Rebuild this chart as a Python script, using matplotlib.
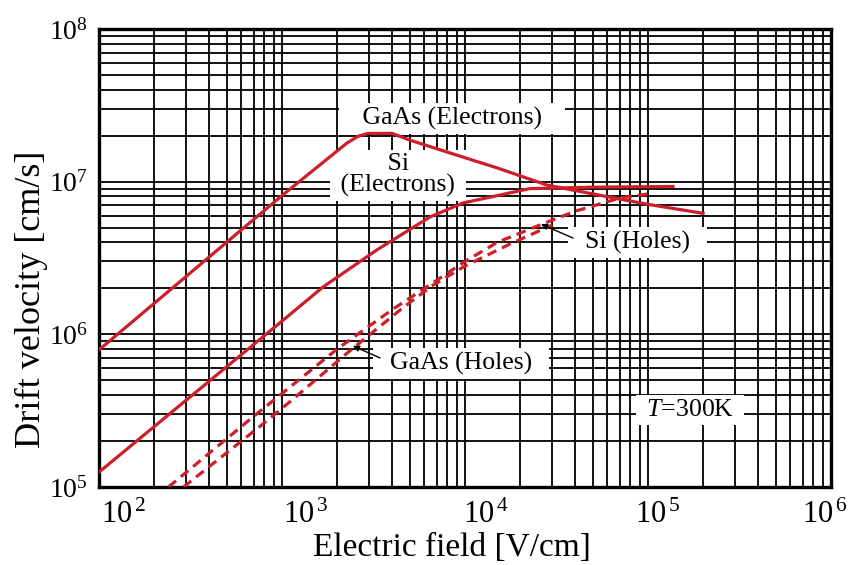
import matplotlib
matplotlib.use("Agg")
import matplotlib.pyplot as plt
import matplotlib.transforms as mtransforms
from matplotlib.ticker import NullFormatter

plt.rcParams['font.family'] = ['Liberation Serif', 'DejaVu Serif']
plt.rcParams['mathtext.fontset'] = 'custom'
plt.rcParams['mathtext.rm'] = 'Liberation Serif'
plt.rcParams['mathtext.it'] = 'Liberation Serif:italic'
plt.rcParams['lines.scale_dashes'] = False

# values: electric field [V/cm], drift velocity [cm/s]
gaas_e_field = [100, 1000, 2265, 2600, 2950, 4000, 5000, 8300, 1.5e4, 2.8e4, 5.3e4, 1e5, 2e5]
gaas_e_vel = [7.9e5, 8.1e6, 1.79e7, 1.98e7, 2.07e7, 2.07e7, 1.87e7, 1.54e7, 1.23e7, 9.5e6, 8.2e6, 7.1e6, 6.2e6]

si_e_field = [100, 1000, 1675, 3300, 6440, 9750, 1.5e4, 2.26e4, 5e4, 1.37e5]
si_e_vel = [1.25e5, 1.22e6, 2.04e6, 3.57e6, 5.87e6, 7.25e6, 8.1e6, 9.0e6, 9.2e6, 9.3e6]

si_h_field = [240, 700, 2000, 4000, 6200, 1e4, 1.5e4, 2.67e4, 4e4, 7e4, 1e5]
si_h_vel = [1.0e5, 2.9e5, 8.0e5, 1.45e6, 2.05e6, 3.0e6, 4.0e6, 5.3e6, 6.4e6, 7.8e6, 8.3e6]

gaas_h_field = [290, 760, 1100, 2350, 4600, 6700, 1e4, 1.76e4, 3e4]
gaas_h_vel = [1.0e5, 2.5e5, 3.6e5, 7.8e5, 1.5e6, 2.1e6, 2.8e6, 3.9e6, 5.2e6]

xticks = [1e2, 1e3, 1e4, 1e5, 1e6]
xlabels = [r'$10^{\,2}$', r'$10^{\,3}$', r'$10^{\,4}$', r'$10^{\,5}$', r'$10^{\,6}$']
yticks = [1e5, 1e6, 1e7, 1e8]
ylabels = [r'$10^{5}$', r'$10^{6}$', r'$10^{7}$', r'$10^{8}$']

red = '#cc1f2a'

fig = plt.figure(figsize=(8.62, 5.65), dpi=100)
ax = fig.add_axes([0.1148, 0.1381, 0.8492, 0.8106])
ax.set_xscale('log')
ax.set_yscale('log')
ax.set_xlim(1e2, 1e6)
ax.set_ylim(1e5, 1e8)

ax.grid(True, which='both', color='black', lw=1.3)
for s in ax.spines.values():
    s.set_linewidth(2.4)
ax.tick_params(which='both', length=0)
ax.xaxis.set_minor_formatter(NullFormatter())
ax.yaxis.set_minor_formatter(NullFormatter())

ax.plot(gaas_e_field, gaas_e_vel, color=red, lw=2.3, zorder=4)
ax.plot(si_e_field, si_e_vel, color=red, lw=2.3, zorder=4)
ax.plot(si_h_field, si_h_vel, color=red, lw=2.3, dashes=(7, 4.5), zorder=4)
ax.plot(gaas_h_field, gaas_h_vel, color=red, lw=2.3, dashes=(7, 4.5), zorder=4)

ax.set_xticks(xticks)
ax.set_xticklabels(xlabels, fontsize=22)
ax.set_yticks(yticks)
ax.set_yticklabels(ylabels, fontsize=20)
ax.tick_params(axis='x', pad=10)
ax.tick_params(axis='y', pad=8)
# the original x labels sit a bit right of their grid lines
shifts = [25, 24, 21, 10, -6]
for lab, dx in zip(ax.get_xticklabels(), shifts):
    lab.set_transform(lab.get_transform() + mtransforms.ScaledTranslation(dx / 100, 0, fig.dpi_scale_trans))

ax.set_xlabel('Electric field [V/cm]', fontsize=24)
ax.xaxis.set_label_coords(0.482, -0.10)
ax.set_ylabel('Drift velocity [cm/s]', fontsize=26)
ax.yaxis.set_label_coords(-0.07, 0.41)

box = dict(boxstyle='square,pad=0.15', facecolor='white', edgecolor='none')
fs = 18.5
ax.text(8490, 2.6e7, '   GaAs (Electrons)   ', fontsize=fs, ha='center', va='center', bbox=box, zorder=3)
ax.text(4305, 1.1e7, ' Si \n (Electrons) ', fontsize=fs, ha='center', va='center',
        linespacing=0.95, bbox=box, zorder=3)
ax.text(8.8e4, 4.0e6, '  Si (Holes)  ', fontsize=fs, ha='center', va='center', bbox=box, zorder=3)
ax.text(9500, 6.4e5, '  GaAs (Holes)  ', fontsize=fs, ha='center', va='center', bbox=box, zorder=3)
ax.text(1.7e5, 3.19e5, ' $T$=300K  ', fontsize=fs, ha='center', va='center', bbox=box, zorder=3)

arrow = dict(arrowstyle='-|>', color='black', lw=1.0, mutation_scale=9, shrinkA=0, shrinkB=0)
ax.annotate('', xy=(2.6e4, 5.27e6), xytext=(3.9e4, 4.27e6), arrowprops=arrow, zorder=5)
ax.annotate('', xy=(2444, 8.4e5), xytext=(3434, 7.0e5), arrowprops=arrow, zorder=5)

fig.savefig('out.png', dpi=100)
